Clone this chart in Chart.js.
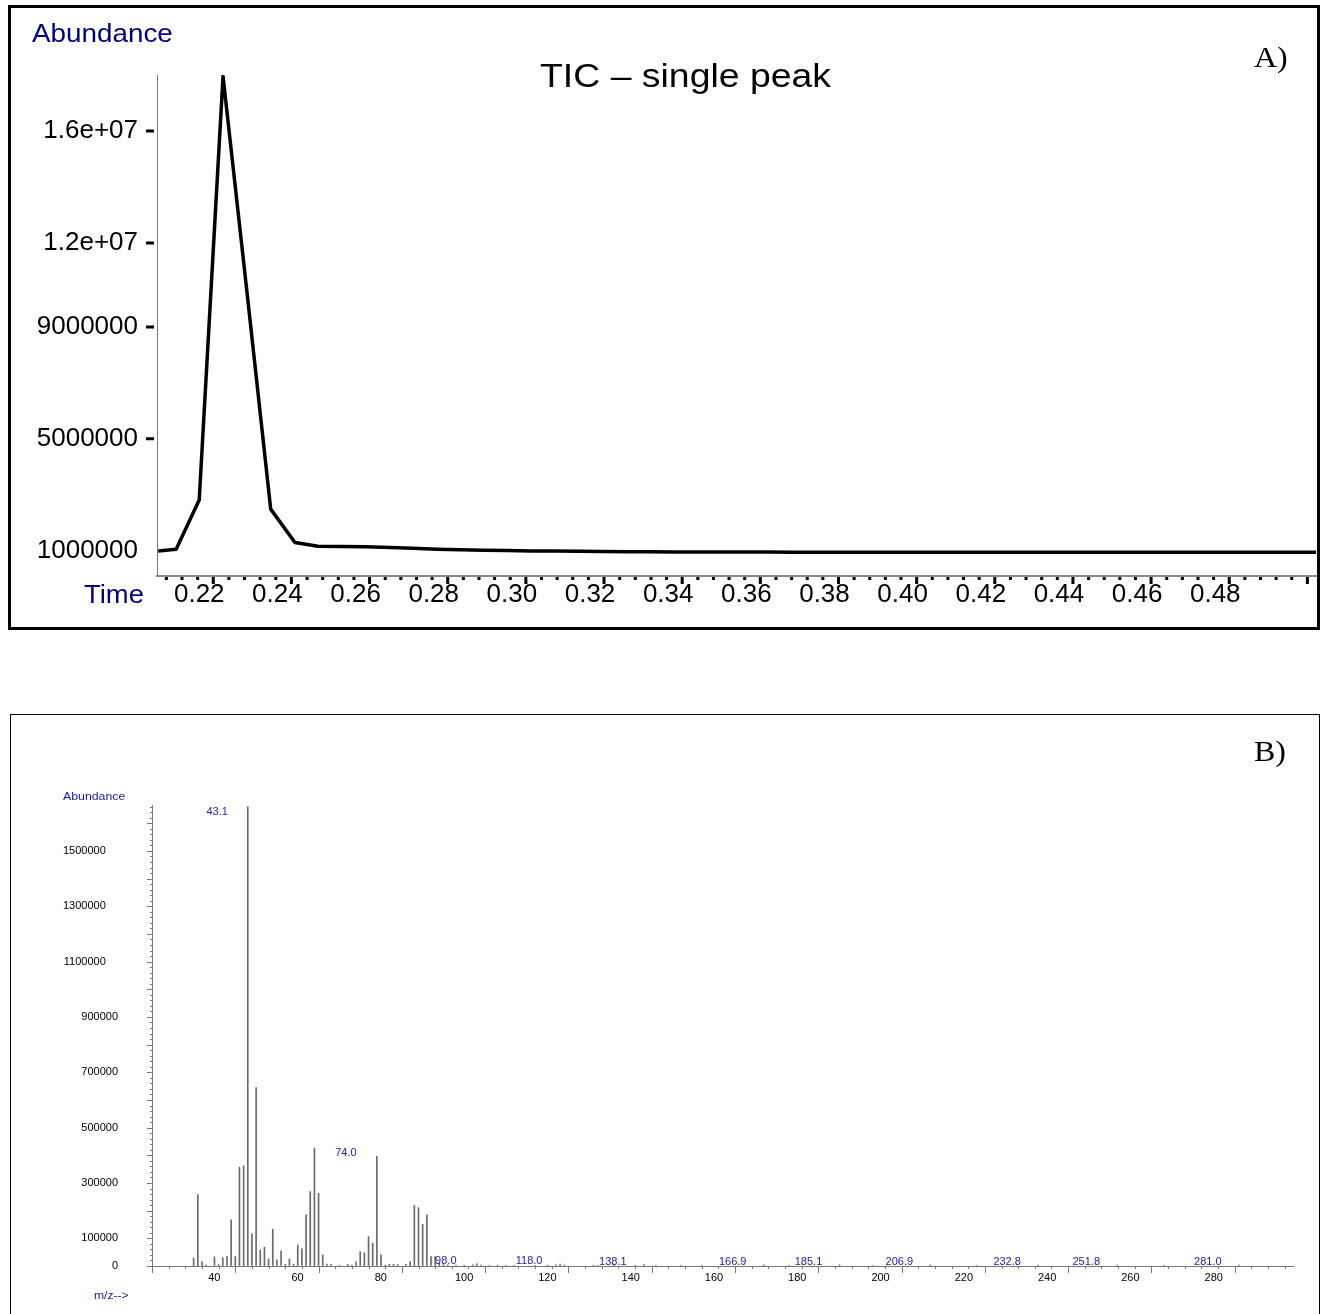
<!DOCTYPE html>
<html>
<head>
<meta charset="utf-8">
<script src="https://cdn.jsdelivr.net/npm/chart.js@4.4.1/dist/chart.umd.min.js"></script>
<style>
  body { margin: 0; background: #fff; }
  #page { position: relative; width: 1322px; height: 1314px; overflow: hidden; font-family: "Liberation Sans", Arial, sans-serif; }
  .box { position: absolute; box-sizing: border-box; }
  .txt { position: absolute; white-space: nowrap; transform-origin: 0 0; line-height: 1; }
  canvas { position: absolute; }
</style>
</head>
<body>
<div id="page">
  <div class="box" style="left:8px;top:5px;width:1312px;height:625px;border:3px solid #000"></div>
  <div class="box" style="left:10px;top:714px;width:1310px;height:640px;border:1px solid #000"></div>
  <canvas id="ticChart" width="1306" height="619" style="left:11px;top:8px"></canvas>
  <canvas id="msChart" width="1308" height="599" style="left:11px;top:715px"></canvas>

  <div class="txt" style="left:32px;top:19.7px;font-size:26px;color:#000080;transform:scaleX(1.07)">Abundance</div>
  <div class="txt" style="left:540px;top:57.9px;font-size:34px;color:#000;transform:scaleX(1.1)">TIC – single peak</div>
  <div class="txt" style="left:84px;top:581.3px;font-size:26px;color:#000080;transform:scaleX(1.055)">Time</div>
  <div class="txt" style="left:1254px;top:43.4px;font-size:29px;font-family:'Liberation Serif',serif;color:#000;transform:scaleX(1.1)">A)</div>
  <div class="txt" style="left:1254px;top:737.4px;font-size:29px;font-family:'Liberation Serif',serif;color:#000;transform:scaleX(1.1)">B)</div>
  <div class="txt" style="left:63px;top:791.2px;font-size:11.2px;color:#1c1c9a;transform:scaleX(1.1)">Abundance</div>
  <div class="txt" style="left:93.5px;top:1289.7px;font-size:11px;color:#1c1c9a;transform:scaleX(1.1)">m/z--&gt;</div>
</div>

<script>
// A) total ion chromatogram
const ticTimes = [0.2059, 0.2105, 0.2164, 0.2225, 0.2286, 0.2347, 0.2409, 0.2468, 0.2529, 0.2590,
  0.2652, 0.2711, 0.2772, 0.2833, 0.2892, 0.2953, 0.3014, 0.3074, 0.3135, 0.3196,
  0.3257, 0.3318, 0.3378, 0.3439, 0.3498, 0.3559, 0.3620, 0.3680, 0.3741, 0.3802,
  0.3863, 0.3922, 0.3983, 0.4044, 0.4104, 0.4165, 0.4226, 0.4286, 0.4347, 0.4408,
  0.4467, 0.4528, 0.4589, 0.4649, 0.4710, 0.4771, 0.4830, 0.4891, 0.4952, 0.5011, 0.5072];
const ticAbundance = [993000, 1054000, 2815000, 17950000, 10280000, 2490000, 1300000, 1161000, 1154000, 1143000,
  1122000, 1090000, 1057000, 1036000, 1022000, 1007000, 997000, 990000, 982000, 975000,
  968000, 965000, 960000, 957000, 957000, 955000, 954000, 953000, 952000, 951000,
  950000, 950000, 949000, 949000, 948000, 948000, 948000, 947000, 947000, 947000,
  947000, 946000, 946000, 946000, 946000, 945000, 945000, 945000, 945000, 945000, 945000];
const timeTicks = [0.22, 0.24, 0.26, 0.28, 0.30, 0.32, 0.34, 0.36, 0.38, 0.40, 0.42, 0.44, 0.46, 0.48];
const ticYTicks = [1000000, 5000000, 9000000, 12000000, 16000000];
const ticYLabels = ["1000000", "5000000", "9000000", "1.2e+07", "1.6e+07"];

// B) mass spectrum
const mzValues = [30, 31, 32, 33, 35, 36, 37, 38, 39, 40, 41, 42, 43, 44, 45, 46, 47, 48, 49, 50,
  51, 52, 53, 54, 55, 56, 57, 58, 59, 60, 61, 62, 63, 65, 67, 68, 69, 70, 71, 72,
  73, 74, 75, 76, 77, 78, 79, 81, 82, 83, 84, 85, 86, 87, 88, 89, 90, 91, 93, 95,
  97, 98, 99, 101, 103, 105, 107, 112, 115, 117, 118, 119, 126, 127, 131, 136, 138.1, 141, 147, 152,
  166.9, 173, 185.1, 193, 206.9, 218, 232.8, 251.8, 263, 281.0];
const mzAbundance = [28000, 258000, 16000, 3000, 33000, 5000, 30000, 34000, 167000, 34000, 357000, 362000, 1660000, 116000, 645000, 58000, 68000, 25000, 133000, 22000,
  55000, 6000, 25000, 6000, 76000, 62000, 185000, 269000, 426000, 263000, 40000, 7000, 6000, 3000, 6000, 3000, 15000, 52000, 48000, 106000,
  82000, 396000, 40000, 3000, 6000, 6000, 5000, 6000, 16000, 219000, 211000, 151000, 185000, 34000, 34000, 10000, 5000, 4000, 3000, 3000,
  4000, 8000, 3000, 2000, 3000, 2000, 2000, 2000, 3000, 4000, 7000, 3000, 3000, 2000, 2000, 2000, 5000, 2000, 2000, 2000,
  4000, 2000, 4000, 2000, 4000, 2000, 3000, 3000, 2000, 3000];
const mzTicks = [40, 60, 80, 100, 120, 140, 160, 180, 200, 220, 240, 260, 280];
const msYTicks = [0, 100000, 300000, 500000, 700000, 900000, 1100000, 1300000, 1500000];
const peakLabels = ["43.1", "74.0", "98.0", "118.0", "138.1", "166.9", "185.1", "206.9", "232.8", "251.8", "281.0"];

Chart.defaults.font.family = "'Liberation Sans', Arial, sans-serif";
Chart.defaults.color = "#000";

const ticMarks = {
  id: "ticMarks",
  afterDraw(chart) {
    const { ctx, chartArea, scales: { x, y } } = chart;
    ctx.save();
    ctx.strokeStyle = "#000";
    ctx.lineWidth = 3;
    ctx.beginPath();
    for (let k = -4; k <= 75; k++) {
      const v = 0.22 + k * 0.004;
      if (v < x.min || v > x.max) continue;
      const px = x.getPixelForValue(v);
      const len = k % 5 === 0 ? 7 : 3;
      ctx.moveTo(px, chartArea.bottom + 1);
      ctx.lineTo(px, chartArea.bottom + 1 + len);
    }
    ticYTicks.slice(1).forEach((v) => {
      const py = y.getPixelForValue(v);
      ctx.moveTo(chartArea.left - 11, py);
      ctx.lineTo(chartArea.left - 3, py);
    });
    ctx.stroke();
    ctx.restore();
  },
};

new Chart(document.getElementById("ticChart"), {
  type: "line",
  data: {
    datasets: [
      {
        data: ticTimes.map((t, i) => ({ x: t, y: ticAbundance[i] })),
        borderColor: "#000",
        borderWidth: 3.5,
        borderJoinStyle: "round",
        pointRadius: 0,
        tension: 0,
        fill: false,
      },
    ],
  },
  options: {
    responsive: false,
    animation: false,
    layout: { padding: { left: 0, top: 67, right: 1, bottom: 0 } },
    plugins: { legend: { display: false }, tooltip: { enabled: false } },
    scales: {
      x: {
        type: "linear",
        min: 0.2056,
        max: 0.5022,
        afterBuildTicks: (s) => { s.ticks = timeTicks.map((v) => ({ value: v })); },
        afterFit: (s) => { s.height = 51; },
        grid: { display: true, drawOnChartArea: false, drawTicks: false },
        border: { display: true, color: "#888", width: 2 },
        ticks: {
          autoSkip: false,
          maxRotation: 0,
          padding: 3,
          labelOffset: -14,
          font: { size: 26 },
          callback: (v) => v.toFixed(2),
        },
      },
      y: {
        type: "linear",
        min: 100000,
        max: 18000000,
        afterBuildTicks: (s) => { s.ticks = ticYTicks.map((v) => ({ value: v })); },
        afterFit: (s) => { s.width = 146; },
        grid: { display: true, drawOnChartArea: false, drawTicks: false },
        border: { display: true, color: "#777", width: 1 },
        ticks: {
          padding: 19,
          font: { size: 26 },
          callback: (v, i) => ticYLabels[i],
        },
      },
    },
  },
  plugins: [ticMarks],
});

const msMarks = {
  id: "msMarks",
  afterDraw(chart) {
    const { ctx, chartArea, scales: { x, y } } = chart;
    ctx.save();
    ctx.strokeStyle = "#777";
    ctx.lineWidth = 1;
    ctx.beginPath();
    for (let v = 0; v <= y.max; v += 20000) {
      const py = Math.round(y.getPixelForValue(v)) + 0.5;
      const len = v % 100000 === 0 ? 5 : 2;
      ctx.moveTo(chartArea.left - len, py);
      ctx.lineTo(chartArea.left, py);
    }
    for (let m = 20; m <= x.max; m += 4) {
      const px = Math.round(x.getPixelForValue(m)) + 0.5;
      const len = m % 20 === 0 ? 7 : 3;
      ctx.moveTo(px, chartArea.bottom);
      ctx.lineTo(px, chartArea.bottom + len);
    }
    ctx.stroke();

    ctx.fillStyle = "#1c1c9a";
    ctx.font = "11px 'Liberation Sans', Arial, sans-serif";
    ctx.textAlign = "center";
    ctx.textBaseline = "alphabetic";
    peakLabels.forEach((txt) => {
      const m = parseFloat(txt);
      let best = 0;
      mzValues.forEach((v, i) => { if (Math.abs(v - m) < Math.abs(mzValues[best] - m)) best = i; });
      const px = x.getPixelForValue(m) - 31;
      const py = Math.max(chartArea.top + 10, y.getPixelForValue(mzAbundance[best]));
      ctx.fillText(txt, px, py);
    });
    ctx.restore();
  },
};

new Chart(document.getElementById("msChart"), {
  type: "bar",
  data: {
    datasets: [
      {
        data: mzValues.map((m, i) => ({ x: m, y: mzAbundance[i] })),
        backgroundColor: "#6a6a6a",
        borderWidth: 0,
        barThickness: 1,
        grouped: false,
      },
    ],
  },
  options: {
    responsive: false,
    animation: false,
    layout: { padding: { left: 0, top: 90, right: 26, bottom: 0 } },
    plugins: { legend: { display: false }, tooltip: { enabled: false } },
    scales: {
      x: {
        type: "linear",
        offset: false,
        min: 20,
        max: 294,
        afterBuildTicks: (s) => { s.ticks = mzTicks.map((v) => ({ value: v })); },
        afterFit: (s) => { s.height = 48; },
        grid: { display: true, offset: false, drawOnChartArea: false, drawTicks: false },
        border: { display: true, color: "#777", width: 1 },
        ticks: {
          autoSkip: false,
          maxRotation: 0,
          padding: 5,
          labelOffset: -21,
          font: { size: 11 },
          callback: (v) => String(v),
        },
      },
      y: {
        type: "linear",
        min: 0,
        max: 1666000,
        afterBuildTicks: (s) => { s.ticks = msYTicks.map((v) => ({ value: v })); },
        afterFit: (s) => { s.width = 141; },
        grid: { display: true, drawOnChartArea: false, drawTicks: false },
        border: { display: true, color: "#777", width: 1 },
        ticks: {
          padding: 34,
          font: { size: 11 },
          callback: (v) => (v >= 1000000 ? String(v) + "\u2007\u2007" : String(v)),
        },
      },
    },
  },
  plugins: [msMarks],
});
</script>
</body>
</html>
